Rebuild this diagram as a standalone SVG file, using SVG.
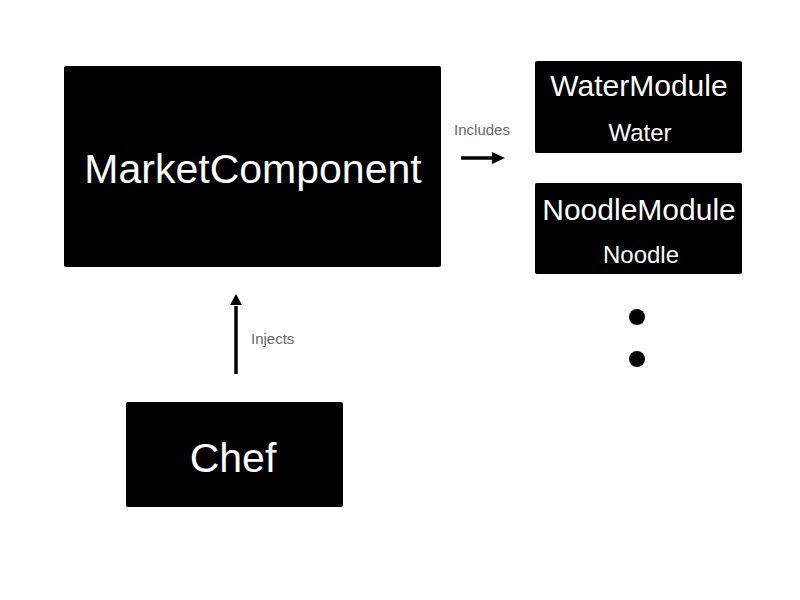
<svg xmlns="http://www.w3.org/2000/svg" width="800" height="600" viewBox="0 0 800 600">
<defs>
<style>
.box{fill:#000;}
.t{font-family:"Liberation Sans",Arial,sans-serif;fill:#fff;text-anchor:middle;}
.lbl{font-family:"Liberation Sans",Arial,sans-serif;fill:#666;font-size:15px;}
.ln{stroke:#000;stroke-width:3.5;fill:none;}
</style>
</defs>
<rect width="800" height="600" fill="#fff"/>
<g id="market">
<rect class="box" x="64" y="66" width="377" height="201" rx="2"/>
<text class="t" x="253" y="183" font-size="41">MarketComponent</text>
</g>
<g id="water">
<rect class="box" x="535" y="61" width="207" height="92" rx="2"/>
<text class="t" x="639" y="96" font-size="30">WaterModule</text>
<text class="t" x="640" y="141" font-size="24">Water</text>
</g>
<g id="noodle">
<rect class="box" x="535" y="183" width="207" height="91" rx="2"/>
<text class="t" x="639" y="220" font-size="30">NoodleModule</text>
<text class="t" x="641" y="263" font-size="24">Noodle</text>
</g>
<g id="chef">
<rect class="box" x="126" y="402" width="217" height="105" rx="2"/>
<text class="t" x="233" y="472" font-size="41">Chef</text>
</g>
<g id="dots">
<circle cx="637" cy="317" r="8" fill="#000"/>
<circle cx="637" cy="359" r="8" fill="#000"/>
</g>
<g id="connectors">
<line class="ln" x1="461" y1="158" x2="492" y2="158"/>
<polygon points="492,152 505,158 492,164" fill="#000"/>
<text class="lbl" x="482" y="135" text-anchor="middle">Includes</text>
<line class="ln" x1="236" y1="374" x2="236" y2="306"/>
<polygon points="230,305 236,294 242,305" fill="#000"/>
<text class="lbl" x="251" y="344">Injects</text>
</g>
</svg>
